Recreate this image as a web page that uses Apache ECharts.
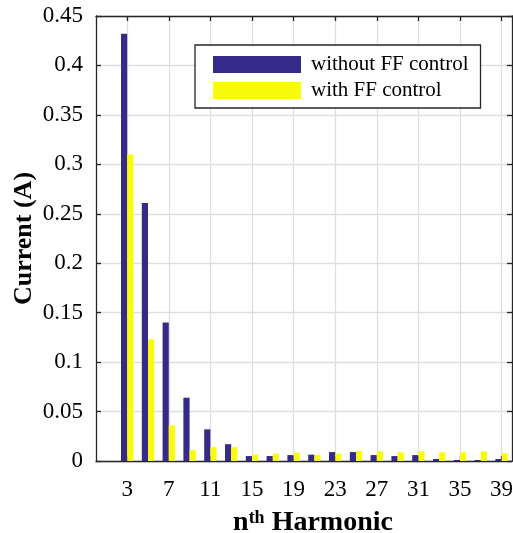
<!DOCTYPE html>
<html>
<head>
<meta charset="utf-8">
<script src="https://cdn.jsdelivr.net/npm/echarts@6/dist/echarts.min.js"></script>
<style>
html,body{margin:0;padding:0;background:#fff;}
#chart{width:513px;height:533px;}
</style>
</head>
<body>
<div id="chart"></div>
<script>
// Data
var harmonics = [3, 5, 7, 9, 11, 13, 15, 17, 19, 21, 23, 25, 27, 29, 31, 33, 35, 37, 39];
var withoutFF = [0.432, 0.261, 0.140, 0.064, 0.032, 0.017, 0.005, 0.005, 0.006, 0.0064, 0.009, 0.009, 0.006, 0.005, 0.006, 0.002, 0.001, 0.001, 0.002];
var withFF = [0.310, 0.123, 0.036, 0.011, 0.014, 0.014, 0.0064, 0.0074, 0.0084, 0.006, 0.0074, 0.010, 0.0098, 0.0088, 0.0098, 0.0088, 0.0088, 0.0098, 0.0078];
var xTickValues = [3, 7, 11, 15, 19, 23, 27, 31, 35, 39];
var seriesNames = ['without FF control', 'with FF control'];

var FONT = 'Liberation Serif';
var AX = '#262626';
var GRID = '#DFDFDF';

function pairs(vals) {
  return harmonics.map(function (h, i) { return [h, vals[i]]; });
}

var chart = echarts.init(document.getElementById('chart'), null, {renderer: 'canvas'});
chart.setOption({
  animation: false,
  backgroundColor: '#fff',
  grid: {left: 96, right: 1, top: 16, bottom: 72, containLabel: false, outerBoundsMode: 'none'},
  legend: {
    orient: 'vertical',
    left: 195, top: 45,
    padding: [9, 12, 7, 18],
    itemWidth: 88, itemHeight: 17, itemGap: 5,
    icon: 'rect',
    borderColor: AX, borderWidth: 1.3,
    backgroundColor: '#fff',
    textStyle: {fontFamily: FONT, fontSize: 21, color: '#000', padding: [0, 0, 0, 5]},
    data: seriesNames
  },
  xAxis: [{
    type: 'value', min: 0, max: 40, position: 'bottom',
    name: '{n|n}{sup|th}{n| Harmonic}',
    nameLocation: 'middle', nameGap: 48,
    nameMoveOverlap: false,
    nameTextStyle: {
      padding: [0, 0, 0, 18],
      rich: {
        n: {fontFamily: FONT, fontSize: 28, fontWeight: 'bold', color: '#000'},
        sup: {fontFamily: FONT, fontSize: 18, fontWeight: 'bold', color: '#000', verticalAlign: 'top'}
      }
    },
    axisLine: {show: true, lineStyle: {color: AX, width: 1.3}},
    axisTick: {show: true, inside: true, length: 5, customValues: xTickValues, lineStyle: {color: AX, width: 1.3}},
    axisLabel: {show: true, customValues: xTickValues, margin: 17, fontFamily: FONT, fontSize: 23, color: '#000'},
    splitLine: {show: true, lineStyle: {color: GRID, width: 1.3}}
  }, {
    type: 'value', min: 0, max: 40, position: 'top',
    axisLine: {show: true, onZero: false, lineStyle: {color: AX, width: 1.3}},
    axisTick: {show: true, inside: true, length: 5, customValues: xTickValues, lineStyle: {color: AX, width: 1.3}},
    axisLabel: {show: false},
    splitLine: {show: false}
  }],
  yAxis: [{
    type: 'value', min: 0, max: 0.45, interval: 0.05, position: 'left',
    name: 'Current (A)',
    nameLocation: 'middle', nameGap: 59,
    nameMoveOverlap: false,
    nameTextStyle: {fontFamily: FONT, fontSize: 26, fontWeight: 'bold', color: '#000'},
    axisLine: {show: true, lineStyle: {color: AX, width: 1.3}},
    axisTick: {show: true, inside: true, length: 5, lineStyle: {color: AX, width: 1.3}},
    axisLabel: {margin: 13, fontFamily: FONT, fontSize: 23, color: '#000'},
    splitLine: {show: true, lineStyle: {color: GRID, width: 1.3}}
  }, {
    type: 'value', min: 0, max: 0.45, interval: 0.05, position: 'right',
    axisLine: {show: true, onZero: false, lineStyle: {color: AX, width: 1.3}},
    axisTick: {show: true, inside: true, length: 5, lineStyle: {color: AX, width: 1.3}},
    axisLabel: {show: false},
    splitLine: {show: false}
  }],
  series: [{
    name: seriesNames[0], type: 'bar', xAxisIndex: 0, yAxisIndex: 0,
    barWidth: 6.2, barGap: '0%',
    itemStyle: {color: '#352A87'},
    data: pairs(withoutFF)
  }, {
    name: seriesNames[1], type: 'bar', xAxisIndex: 0, yAxisIndex: 0,
    barWidth: 6.2, barGap: '0%',
    itemStyle: {color: '#F9FB0E'},
    data: pairs(withFF)
  }]
});
</script>
</body>
</html>
